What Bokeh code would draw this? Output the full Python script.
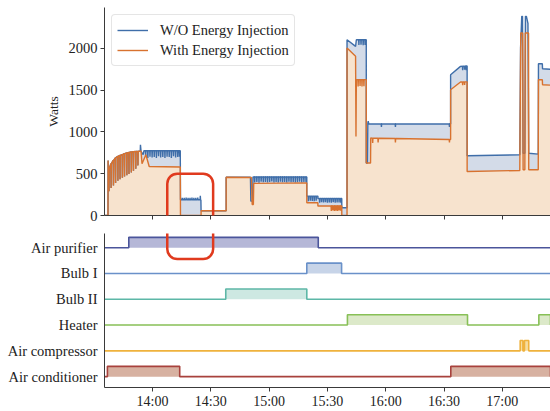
import numpy as np
from bokeh.plotting import figure
from bokeh.layouts import column
from bokeh.models import FixedTicker, Legend, LegendItem, BoxAnnotation, Range1d
from bokeh.embed import file_html
from bokeh.resources import INLINE

FONT = "Liberation Serif"
INK = "#222222"
AXIS = "#3a3a3a"

# ---------------- data (time = minutes after 14:00) ----------------
TICK_LABELS = ["14:00", "14:30", "15:00", "15:30", "16:00", "16:30", "17:00"]
WATT_TICKS = [0, 500, 1000, 1500, 2000]
WINDOW = [-24.7, 204.8]          # observed window (13:35 .. 17:25)

# start-up transient shared by both series
STARTUP_T = [-24.7, -22.9, -22.85, -22.6]
STARTUP_W = [0, 0, 659, 300]
SAW_T = [-22.4, -21.3, -20.1, -19.0, -17.8, -16.7, -15.5, -14.4, -13.2,
         -12.1, -10.9, -9.8, -8.6, -7.5]
SAW_PEAK = [560, 620, 660, 690, 708, 720, 730, 740, 748, 754, 760, 764, 767, 768]
SAW_LOW = [290, 330, 360, 390, 415, 435, 452, 468, 483, 498, 515, 535, 560, 600]

# W/O energy injection
WO_T = [-6.9, -6.3, -6.2, -5.9, -4.8, -4.4, 14.3, 14.4, 24.9, 25.0, 37.9, 37.9,
        50.4, 50.6, 51.5, 51.7, 79.4, 79.4, 85.1, 85.1, 97.4, 97.4, 100.1, 100.1,
        104.5, 104.9, 110.0, 110.0, 110.6, 110.8, 111.0, 111.3, 153.4, 153.4,
        158.5, 161.9, 161.9, 189.0, 189.4, 190.0, 190.4, 190.7, 191.6, 191.9,
        192.4, 193.2, 193.6, 198.5, 198.6, 200.6, 200.7, 204.8]
WO_W = [770, 770, 847, 768, 730, 775, 775, 188, 188, 56, 56, 458,
        458, 172, 172, 460, 460, 232, 232, 204, 204, 92, 92, 2104,
        2025, 2104, 2104, 628, 628, 1107, 1130, 1095, 1095, 1685,
        1785, 1790, 715, 727, 2009, 2384, 2384, 745, 745, 2384,
        2384, 2300, 745, 735, 1817, 1817, 1757, 1750]
WO_TEETH_T = [-3.5, -2.4, -1.3, -0.2, 0.9, 2.0, 3.1, 4.2, 5.3, 6.4, 7.5, 8.6, 9.7,
              10.8, 11.9, 13.0, 13.9,
              15.3, 16.3, 17.3, 18.3, 19.3, 20.3, 21.3, 22.3, 23.3, 24.6,
              52.6, 53.7, 54.8, 55.9, 57.0, 58.1, 59.2, 60.3, 61.4, 62.5, 63.6,
              64.7, 65.8, 66.9, 68.0, 69.1, 70.2, 71.3, 72.4, 73.5, 74.6, 75.7,
              76.8, 77.9, 79.0,
              80.2, 81.2, 82.2, 83.2, 84.2,
              86.0, 87.0, 88.0, 89.0, 90.0, 91.0, 92.0, 93.0, 94.0, 95.0, 96.0, 96.9,
              106.2, 107.3, 108.4, 109.4,
              117.8, 125.0, 152.8,
              159.6, 160.6, 161.4]
WO_TEETH_W = [700, 690, 705, 695, 700, 690, 710, 695, 700, 690, 705, 700, 690,
              710, 695, 700, 705,
              212, 210, 214, 210, 212, 214, 210, 212, 214, 236,
              395, 400, 392, 405, 398, 402, 395, 400, 408, 396, 401,
              394, 403, 398, 400, 395, 405, 397, 402, 396, 399, 404,
              395, 400, 398,
              172, 178, 175, 172, 176,
              152, 158, 155, 160, 152, 156, 154, 158, 152, 157, 155, 153,
              2040, 2045, 2038, 2042,
              1059, 1059, 1060,
              1740, 1745, 1740]

# With energy injection
WITH_T = [-6.9, -5.9, -5.4, -3.4, -1.7, 14.3, 14.4, 25.0, 25.0, 37.9, 37.9,
          50.9, 51.3, 51.9, 52.1, 79.4, 79.4, 85.1, 85.1, 97.4, 97.4, 100.1, 100.1,
          104.5, 104.7, 104.9, 110.0, 110.0, 112.2, 112.3, 153.4, 153.4, 158.5,
          161.9, 161.9, 189.0, 189.5, 190.5, 190.7, 191.6, 191.8, 193.5, 193.6,
          198.5, 198.6, 200.6, 200.7, 204.8]
WITH_W = [770, 770, 620, 727, 587, 580, 0, 0, 56, 56, 458,
          455, 132, 132, 385, 390, 152, 152, 113, 113, 0, 0, 2005,
          1905, 946, 1626, 1626, 628, 628, 927, 910, 1506, 1598,
          1600, 527, 539, 2185, 2185, 547, 547, 2185, 2185, 547,
          547, 1625, 1625, 1566, 1560]
WITH_TEETH_T = [92.0, 92.8, 93.6, 94.4, 95.2, 96.0, 96.8,
                105.8, 106.8, 107.8, 108.8,
                113.3, 116.1, 125.0, 152.8,
                159.6, 160.6]
WITH_TEETH_W = [55, 60, 53, 58, 54, 60, 56,
                1545, 1550, 1545, 1548,
                867, 875, 875, 875,
                1560, 1562]

# device on/off schedule (top to bottom)
DEVICES = ["Air purifier", "Bulb I", "Bulb II", "Heater", "Air compressor", "Air conditioner"]
ON_START = [[-12.2], [79.4], [37.7], [100.3, 198.8], [189.2, 191.4], [-23.2, 153.5]]
ON_END = [[85.3], [97.3], [79.4], [162.1, 204.8], [190.6, 193.6], [14.0, 204.8]]
LINE_COLORS = ["#4b559b", "#6a91c9", "#5db7a7", "#88c057", "#efb23d", "#a8423d"]
FILL_COLORS = ["#b5b7d7", "#c7d4e8", "#cde8e2", "#dce9c9", "#f6dd9f", "#d7b1a1"]

# highlighted region (red rounded box)
HIGHLIGHT_T = [7.6, 31.2]
HIGHLIGHT_TOP_W = 500
HIGHLIGHT_BOTTOM = 4.56

BLUE, ORANGE = "#3f6ea9", "#d8722f"
BLUE_FILL, ORANGE_FILL = "#d3dbe8", "#f7e3ce"
RED = "#e03a1e"


def to_min(label):
    h, m = label.split(":")
    return (int(h) - 14) * 60 + int(m)


TICK_POS = [to_min(s) for s in TICK_LABELS]


def build(base_t, base_w, teeth_t, teeth_w, d=0.12):
    bt, bw = list(STARTUP_T), list(STARTUP_W)
    pts_extra = []
    for t, pk, lo in zip(SAW_T, SAW_PEAK, SAW_LOW):
        bt += [t - d, t + d]
        bw += [pk, pk]
        pts_extra.append((t, lo))
    bt += list(base_t)
    bw += list(base_w)
    pts = list(zip(bt, bw)) + pts_extra
    lvl = np.interp(teeth_t, bt, bw)
    for t, tip, b in zip(teeth_t, teeth_w, lvl):
        pts += [(t - d, b), (t, tip), (t + d, b)]
    pts.sort(key=lambda q: q[0])
    return [q[0] for q in pts], [q[1] for q in pts]


wo_t, wo_w = build(WO_T, WO_W, WO_TEETH_T, WO_TEETH_W)
wi_t, wi_w = build(WITH_T, WITH_W, WITH_TEETH_T, WITH_TEETH_W)

xr = Range1d(WINDOW[0], WINDOW[1])


def style_axis(ax):
    ax.axis_line_color = AXIS
    ax.axis_line_width = 1
    ax.major_tick_line_color = AXIS
    ax.major_tick_in = 0
    ax.major_tick_out = 4
    ax.minor_tick_line_color = None
    ax.major_label_text_font = FONT
    ax.major_label_text_color = INK


# ---------------- top panel ----------------
p = figure(width=550, height=233, x_range=xr, y_range=Range1d(0, 2490),
           output_backend="svg", toolbar_location=None,
           min_border_left=104, min_border_right=0, min_border_top=7, min_border_bottom=18)
p.outline_line_color = None
p.grid.visible = False
p.background_fill_color = "white"
p.border_fill_color = "white"

p.varea(x=wo_t, y1=0, y2=wo_w, fill_color=BLUE_FILL)
p.varea(x=wi_t, y1=0, y2=wi_w, fill_color=ORANGE_FILL)
r1 = p.line(wo_t, wo_w, line_color=BLUE, line_width=1.4)
r2 = p.line(wi_t, wi_w, line_color=ORANGE, line_width=1.4)

style_axis(p.xaxis[0])
style_axis(p.yaxis[0])
p.xaxis.ticker = FixedTicker(ticks=TICK_POS)
p.xaxis.major_label_overrides = {t: "" for t in TICK_POS}
p.xaxis.major_label_text_font_size = "8px"
p.xaxis.major_label_standoff = 0
p.yaxis.ticker = FixedTicker(ticks=WATT_TICKS)
p.yaxis.major_label_text_font_size = "14.5px"
p.yaxis.major_label_standoff = 3
p.yaxis.axis_label = "Watts"
p.yaxis.axis_label_text_font = FONT
p.yaxis.axis_label_text_font_style = "normal"
p.yaxis.axis_label_text_font_size = "13.5px"
p.yaxis.axis_label_text_color = INK
p.yaxis.axis_label_standoff = 5

legend = Legend(items=[LegendItem(label="W/O Energy Injection", renderers=[r1]),
                       LegendItem(label="With Energy Injection", renderers=[r2])],
                location="top_left", margin=7, padding=5, spacing=0,
                glyph_width=31, glyph_height=20, label_height=20, label_standoff=12,
                label_text_font=FONT, label_text_font_size="14.5px", label_text_color=INK,
                border_line_color="#cccccc", background_fill_alpha=0.85)
try:
    legend.border_radius = 4
except Exception:
    pass
p.add_layout(legend)

box_top = BoxAnnotation(left=HIGHLIGHT_T[0], right=HIGHLIGHT_T[1], top=HIGHLIGHT_TOP_W,
                        bottom=-6000, fill_alpha=0, line_color=RED, line_alpha=1,
                        line_width=2.5)
try:
    box_top.border_radius = 10
except Exception:
    pass
p.add_layout(box_top)

# ---------------- bottom panel ----------------
q = figure(width=550, height=178, x_range=xr, y_range=Range1d(-0.42, 5.55),
           output_backend="svg", toolbar_location=None,
           min_border_left=104, min_border_right=0, min_border_top=0, min_border_bottom=23)
q.outline_line_color = None
q.grid.visible = False
q.background_fill_color = "white"
q.border_fill_color = "white"

ON_H = 0.4
n = len(DEVICES)
for i, name in enumerate(DEVICES):
    k = n - 1 - i
    xs, ys = [WINDOW[0]], [k]
    for a, b in zip(ON_START[i], ON_END[i]):
        q.varea(x=[a, b], y1=[k, k], y2=[k + ON_H, k + ON_H], fill_color=FILL_COLORS[i])
        xs += [a, a, b, b]
        ys += [k, k + ON_H, k + ON_H, k]
    xs.append(WINDOW[1])
    ys.append(k)
    q.line(xs, ys, line_color=LINE_COLORS[i], line_width=1.6)

style_axis(q.xaxis[0])
style_axis(q.yaxis[0])
q.xaxis.ticker = FixedTicker(ticks=TICK_POS)
q.xaxis.major_label_overrides = {t: s for t, s in zip(TICK_POS, TICK_LABELS)}
q.xaxis.major_label_text_font_size = "14px"
q.xaxis.major_label_standoff = 2
q.yaxis.ticker = FixedTicker(ticks=list(range(n)))
q.yaxis.major_label_overrides = {n - 1 - i: name for i, name in enumerate(DEVICES)}
q.yaxis.major_label_text_font_size = "14.5px"
q.yaxis.major_tick_out = 0
q.yaxis.major_label_standoff = 7

box_bot = BoxAnnotation(left=HIGHLIGHT_T[0], right=HIGHLIGHT_T[1], top=60,
                        bottom=HIGHLIGHT_BOTTOM, fill_alpha=0, line_color=RED, line_alpha=1,
                        line_width=2.5)
try:
    box_bot.border_radius = 10
except Exception:
    pass
q.add_layout(box_bot)

layout = column(p, q, spacing=0)
open("out.html", "w").write(file_html(layout, INLINE))
